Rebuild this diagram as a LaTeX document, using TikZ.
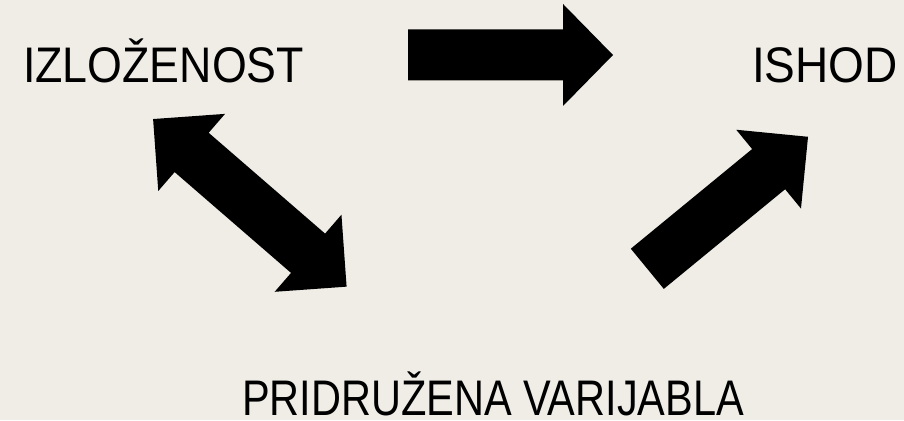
\documentclass[tikz,border=0pt]{standalone}
\usepackage{fontspec}
\setmainfont{Liberation Sans}
\usepackage{graphicx}
\definecolor{bgc}{HTML}{EFEDE6}
\begin{document}
\begin{tikzpicture}[x=1pt,y=1pt,
  lbl/.style={inner sep=0pt, anchor=base, font=\fontsize{50}{60}\selectfont},
  blockarr/.style={fill=black, draw=none}]
\fill[bgc] (0,0) rectangle (904,420);
\useasboundingbox (0,0) rectangle (904,420);
% labels
\node[lbl] (izl) at (163.5,337) {\scalebox{0.895}[1]{IZLOŽENOST}};
\node[lbl] (ish) at (825,337) {\scalebox{0.92}[1]{ISHOD}};
\node[lbl] (pri) at (493,5) {\scalebox{0.83}[1]{PRIDRUŽENA VARIJABLA}};
% horizontal arrow
\begin{scope}[shift={(408,365)}]
  \coordinate (h1) at (0,0); \coordinate (h2) at (205,0);
  \fill[blockarr] (0,-25.5) -- (155,-25.5) -- (155,-51) -- (205,0) -- (155,51) -- (155,25.5) -- (0,25.5) -- cycle;
\end{scope}
% double arrow
\begin{scope}[shift={(249.85,217.15)}, rotate=-40.9]
  \coordinate (d1) at (-128,0); \coordinate (d2) at (128,0);
  \fill[blockarr] (-128,0) -- (-77,51) -- (-77,26) -- (77,26) -- (77,51) -- (128,0)
     -- (77,-51) -- (77,-26) -- (-77,-26) -- (-77,-51) -- cycle;
\end{scope}
% single diagonal arrow
\begin{scope}[shift={(647.3,151.2)}, rotate=39.4]
  \coordinate (s1) at (0,0); \coordinate (s2) at (208,0);
  \fill[blockarr] (0,-26) -- (157,-26) -- (157,-51) -- (208,0) -- (157,51) -- (157,26) -- (0,26) -- cycle;
\end{scope}
\end{tikzpicture}
\end{document}
